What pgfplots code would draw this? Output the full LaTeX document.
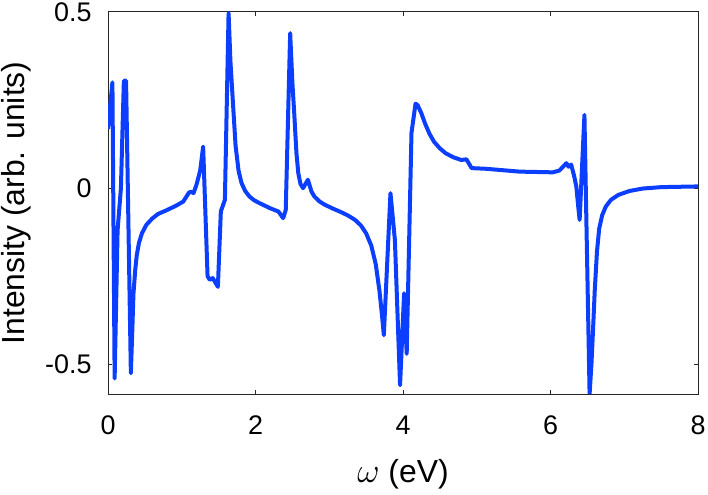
\documentclass[border=0pt]{standalone}
\usepackage{fontspec}
\setmainfont{Liberation Sans}
\usepackage{pgfplots}
\pgfplotsset{compat=1.18}
\definecolor{lineblue}{RGB}{12,62,255}
\definecolor{axgray}{RGB}{38,38,38}
\begin{document}
\begin{tikzpicture}
\begin{axis}[
 scale only axis, width=295bp, height=191bp,
 xmin=0, xmax=8, ymin=-0.584, ymax=0.5,
 xtick={0,2,4,6,8}, xticklabels={0,2,4,6,8},
 ytick={-0.5,0,0.5}, yticklabels={-0.5,0,0.5},
 tick align=inside, major tick length=2.2bp,
 axis line style={axgray, line width=0.5bp},
 every tick/.style={axgray, line width=0.5bp},
 tick label style={font=\fontsize{13.5}{15}\selectfont},
 label style={font=\fontsize{16}{19}\selectfont},
 xticklabel style={yshift=-7.5bp},
 yticklabel style={xshift=-4.7bp},
 xlabel={$\omega$ (eV)}, ylabel={Intensity (arb. units)},
 xlabel style={at={([yshift=-40bp]axis description cs:0.5,0)}, anchor=center},
 ylabel style={at={([xshift=-46bp]axis description cs:0,0.5)}, anchor=center},
]
\addplot[lineblue, line width=2bp, line join=round] coordinates {
(0,0.168) (0.06,0.30) (0.09,-0.54) (0.13,-0.12) (0.175,0.0) (0.215,0.305) (0.245,0.305)
(0.31,-0.525) (0.33,-0.40) (0.345,-0.30) (0.37,-0.23) (0.39,-0.19) (0.42,-0.155)
(0.46,-0.128) (0.52,-0.104) (0.60,-0.086) (0.68,-0.073) (0.80,-0.062) (0.92,-0.050)
(1.02,-0.038) (1.10,-0.012) (1.13,-0.010) (1.16,-0.014) (1.20,0.01) (1.25,0.05)
(1.29,0.118) (1.35,-0.25) (1.38,-0.26) (1.42,-0.255) (1.49,-0.28) (1.53,-0.066)
(1.585,-0.033) (1.635,0.497) (1.66,0.36) (1.70,0.222) (1.73,0.12) (1.77,0.05)
(1.81,0.015) (1.86,-0.008) (1.92,-0.024) (1.98,-0.034) (2.05,-0.042) (2.13,-0.050)
(2.20,-0.057) (2.26,-0.062) (2.31,-0.066) (2.375,-0.085) (2.41,-0.062) (2.47,0.44)
(2.50,0.30) (2.525,0.213) (2.555,0.10) (2.58,0.043) (2.61,0.012) (2.645,0.0)
(2.71,0.024) (2.76,-0.010) (2.80,-0.024) (2.87,-0.038) (2.94,-0.047) (3.05,-0.058)
(3.15,-0.067) (3.25,-0.077) (3.35,-0.090) (3.43,-0.106) (3.50,-0.128) (3.57,-0.163)
(3.63,-0.215) (3.68,-0.29) (3.715,-0.36) (3.74,-0.417) (3.83,-0.014) (3.89,-0.147)
(3.96,-0.559) (4.015,-0.298) (4.05,-0.47) (4.115,0.157) (4.17,0.24) (4.20,0.235)
(4.25,0.212) (4.30,0.183) (4.36,0.154) (4.42,0.132) (4.50,0.113) (4.58,0.099)
(4.68,0.088) (4.79,0.080) (4.86,0.082) (4.93,0.057) (5.13,0.055) (5.58,0.047)
(6.03,0.045) (6.12,0.05) (6.215,0.071) (6.245,0.061) (6.28,0.067) (6.32,0.035)
(6.35,0.005) (6.375,-0.05) (6.395,-0.09) (6.46,0.208) (6.53,-0.584) (6.555,-0.50)
(6.575,-0.41) (6.60,-0.29) (6.63,-0.18) (6.66,-0.115) (6.70,-0.077) (6.75,-0.052)
(6.82,-0.033) (6.92,-0.019) (7.07,-0.008) (7.25,-0.001) (7.5,0.003) (8.0,0.005)
};
\end{axis}
\pgfresetboundingbox
\path[use as bounding box] ([xshift=-54bp,yshift=-50.5bp]current axis.south west) rectangle ++(354bp,247.5bp);
\end{tikzpicture}
\end{document}
